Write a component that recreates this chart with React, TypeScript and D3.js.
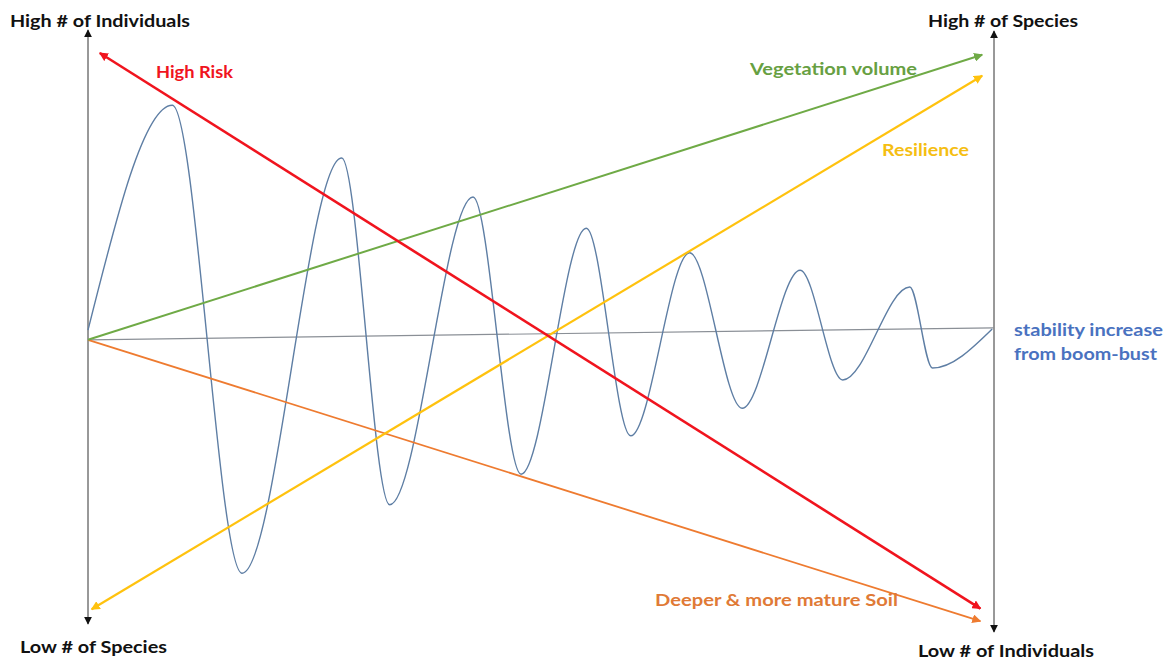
import React, { useEffect, useRef } from 'react';
import * as d3 from 'd3';

// boom-bust oscillation, turning points (time, level)
const oscTime = [0, 9.3, 17.0, 28.0, 33.3, 42.5, 47.8, 55.0, 59.9, 66.4, 72.2, 78.6, 83.3, 90.7, 93.2, 99.8];
const oscLevel = [50.3, 87.8, 9.8, 79.0, 21.2, 72.5, 26.3, 67.3, 32.7, 63.2, 37.3, 60.3, 42.0, 57.5, 44.0, 50.5];

// trend arrows
const trendNames = ['Vegetation volume', 'Resilience', 'High Risk', 'Deeper & more mature Soil', 'stability'];
const trendStartTime = [0, 0.4, 1.3, 0, 0];
const trendEndTime = [98.7, 98.7, 98.5, 98.5, 100];
const trendStartLevel = [48.7, 3.8, 96.5, 48.7, 48.7];
const trendEndLevel = [96.2, 92.7, 3.9, 1.8, 50.7];

const W = 1172;
const H = 661;

const colors: Record<string, string> = {
    'Vegetation volume': '#6FAA46',
    'Resilience': '#FFC20E',
    'High Risk': '#F0141E',
    'Deeper & more mature Soil': '#EE7B30',
    'stability': '#8a8f96',
};
const widths: Record<string, number> = {
    'Vegetation volume': 2,
    'Resilience': 2.2,
    'High Risk': 2.6,
    'Deeper & more mature Soil': 1.8,
    'stability': 1.2,
};
// which ends get an arrowhead
const arrowStart: Record<string, boolean> = {
    'Vegetation volume': false, 'Resilience': true, 'High Risk': true,
    'Deeper & more mature Soil': false, 'stability': false,
};
const arrowEnd: Record<string, boolean> = {
    'Vegetation volume': true, 'Resilience': true, 'High Risk': true,
    'Deeper & more mature Soil': true, 'stability': false,
};

export default function App() {
    const ref = useRef<SVGSVGElement>(null);

    useEffect(() => {
        const svg = d3.select(ref.current);
        svg.selectAll('*').remove();

        const x = d3.scaleLinear().domain([0, 100]).range([88, 994]);
        const y = d3.scaleLinear().domain([0, 100]).range([632, 32]);

        const defs = svg.append('defs');
        const addMarker = (id: string, color: string, size: number) => {
            defs.append('marker')
                .attr('id', id)
                .attr('viewBox', '0 0 10 10')
                .attr('refX', 9)
                .attr('refY', 5)
                .attr('markerWidth', size)
                .attr('markerHeight', size)
                .attr('markerUnits', 'userSpaceOnUse')
                .attr('orient', 'auto-start-reverse')
                .append('path')
                .attr('d', 'M0,0 L10,5 L0,10 Z')
                .attr('fill', color);
        };
        addMarker('arr-axis', '#111', 8);
        trendNames.forEach((n, i) => addMarker(`arr-${i}`, colors[n], 9));

        // vertical axes
        svg.append('line')
            .attr('x1', x(0)).attr('x2', x(0))
            .attr('y1', y(100) - 2).attr('y2', y(0) - 8)
            .attr('stroke', '#333').attr('stroke-width', 1)
            .attr('marker-start', 'url(#arr-axis)')
            .attr('marker-end', 'url(#arr-axis)');
        svg.append('line')
            .attr('x1', x(100)).attr('x2', x(100))
            .attr('y1', y(100) - 1).attr('y2', y(0))
            .attr('stroke', '#333').attr('stroke-width', 1)
            .attr('marker-start', 'url(#arr-axis)')
            .attr('marker-end', 'url(#arr-axis)');

        // stability baseline first, then oscillation, then trends
        const line = d3.line<[number, number]>().x(d => x(d[0])).y(d => y(d[1]));
        const si = trendNames.indexOf('stability');
        svg.append('path')
            .attr('d', line([[trendStartTime[si], trendStartLevel[si]], [trendEndTime[si], trendEndLevel[si]]]))
            .attr('stroke', colors.stability)
            .attr('stroke-width', widths.stability)
            .attr('fill', 'none');

        const osc = d3.line<number>()
            .x((d, i) => x(oscTime[i]))
            .y(d => y(d))
            .curve(d3.curveMonotoneX);
        svg.append('path')
            .attr('d', osc(oscLevel))
            .attr('fill', 'none')
            .attr('stroke', '#5E7EA4')
            .attr('stroke-width', 1.4);

        const order = ['Deeper & more mature Soil', 'Vegetation volume', 'Resilience', 'High Risk'];
        order.forEach(n => {
            const i = trendNames.indexOf(n);
            svg.append('path')
                .attr('d', line([[trendStartTime[i], trendStartLevel[i]], [trendEndTime[i], trendEndLevel[i]]]))
                .attr('stroke', colors[n])
                .attr('stroke-width', widths[n])
                .attr('fill', 'none')
                .attr('marker-start', arrowStart[n] ? `url(#arr-${i})` : null)
                .attr('marker-end', arrowEnd[n] ? `url(#arr-${i})` : null);
        });

        // labels (the source image is a bit stretched sideways, so fit the width)
        const label = (t: string, px: number, py: number, color: string, len: number) =>
            svg.append('text')
                .attr('x', px).attr('y', py)
                .attr('fill', color)
                .attr('textLength', len)
                .attr('lengthAdjust', 'spacingAndGlyphs')
                .style('font-family', 'Lato, "Open Sans", sans-serif')
                .style('font-weight', 'bold')
                .style('font-size', '17px')
                .text(t);

        label('High # of Individuals', 10, 27, '#111', 180);
        label('High # of Species', 928, 27, '#111', 150);
        label('Low # of Species', 20, 653, '#111', 147);
        label('Low # of Individuals', 918, 657, '#111', 176);
        label('High Risk', 156, 78, colors['High Risk'], 77);
        label('Vegetation volume', 750, 75, '#67A042', 167);
        label('Resilience', 882, 156, '#F5BE12', 87);
        label('Deeper & more mature Soil', 655, 606, '#E07A36', 243);
        label('stability increase', 1014, 336, '#4A72C0', 149);
        label('from boom-bust', 1014, 360, '#4A72C0', 143);
    }, []);

    return (
        <div style={{ position: 'absolute', left: 0, top: 0, background: '#fff' }}>
            <svg ref={ref} width={W} height={H} />
        </div>
    );
}
